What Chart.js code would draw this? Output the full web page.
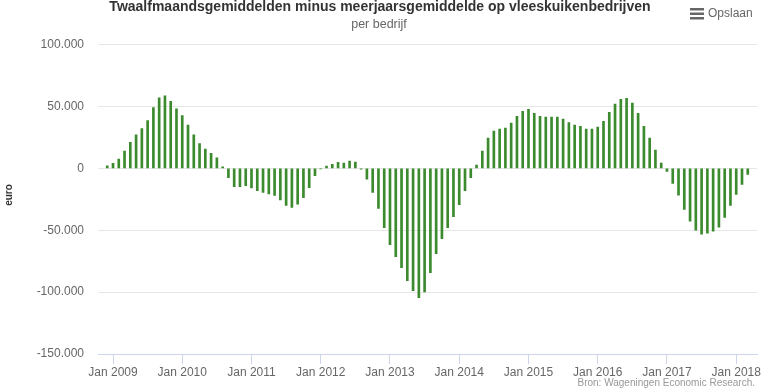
<!DOCTYPE html>
<html><head><meta charset="utf-8">
<script src="https://cdn.jsdelivr.net/npm/chart.js@4/dist/chart.umd.min.js"></script>
<style>html,body{margin:0;padding:0;background:#fff;}#wrap{width:770px;height:390px;position:relative}</style>
</head><body><div id="wrap"><canvas id="c" width="770" height="390"></canvas></div>
<script>
const months = [
 "2008-12",
 "2009-01","2009-02","2009-03","2009-04","2009-05","2009-06","2009-07","2009-08","2009-09","2009-10","2009-11","2009-12",
 "2010-01","2010-02","2010-03","2010-04","2010-05","2010-06","2010-07","2010-08","2010-09","2010-10","2010-11","2010-12",
 "2011-01","2011-02","2011-03","2011-04","2011-05","2011-06","2011-07","2011-08","2011-09","2011-10","2011-11","2011-12",
 "2012-01","2012-02","2012-03","2012-04","2012-05","2012-06","2012-07","2012-08","2012-09","2012-10","2012-11","2012-12",
 "2013-01","2013-02","2013-03","2013-04","2013-05","2013-06","2013-07","2013-08","2013-09","2013-10","2013-11","2013-12",
 "2014-01","2014-02","2014-03","2014-04","2014-05","2014-06","2014-07","2014-08","2014-09","2014-10","2014-11","2014-12",
 "2015-01","2015-02","2015-03","2015-04","2015-05","2015-06","2015-07","2015-08","2015-09","2015-10","2015-11","2015-12",
 "2016-01","2016-02","2016-03","2016-04","2016-05","2016-06","2016-07","2016-08","2016-09","2016-10","2016-11","2016-12",
 "2017-01","2017-02","2017-03","2017-04","2017-05","2017-06","2017-07","2017-08","2017-09","2017-10","2017-11","2017-12",
 "2018-01","2018-02","2018-03"
];
const values = [
 2000,
 4000, 7500, 14000, 21000, 27000, 32000, 38500, 49000, 57000, 58500, 54000, 48000,
 42500, 35000, 27000, 20000, 15500, 12000, 8500, 1200, -7500, -14800, -14800, -14000,
 -15800, -18000, -19500, -20600, -22000, -25500, -30000, -31700, -29000, -23700, -15600, -6000,
 -500, 1800, 3300, 4900, 4200, 5800, 5100, -700, -8800, -19500, -32400, -48000,
 -61600, -71300, -80200, -90800, -98800, -104500, -99800, -84300, -68900, -56800, -47900, -39000,
 -29300, -18000, -7600, 2600, 14000, 24500, 30000, 31600, 32400, 36500, 42000, 46000,
 47700, 44500, 42000, 41300, 41300, 41300, 39700, 37000, 35000, 34000, 31600, 31600,
 33200, 38000, 45300, 51800, 55700, 56500, 52700, 44500, 34000, 24400, 14700, 4300,
 -2500, -12300, -21700, -33200, -42800, -50000, -53200, -52400, -50800, -47600, -39600, -30000,
 -21000, -13000, -5000
];
const xTickMonths = ["2009-01","2010-01","2011-01","2012-01","2013-01","2014-01","2015-01","2016-01","2017-01","2018-01"];
const xTickLabels = ["Jan 2009","Jan 2010","Jan 2011","Jan 2012","Jan 2013","Jan 2014","Jan 2015","Jan 2016","Jan 2017","Jan 2018"];
const yTicks = [-150000, -100000, -50000, 0, 50000, 100000];
const titleText = "Twaalfmaandsgemiddelden minus meerjaarsgemiddelde op vleeskuikenbedrijven";
const subtitleText = "per bedrijf";
const yAxisTitle = "euro";
const sourceText = "Bron: Wageningen Economic Research.";
const menuText = "Opslaan";

const FONT = "'Liberation Sans', Arial, sans-serif";
function fmt(v){
  const s = Math.abs(v).toString().replace(/\B(?=(\d{3})+(?!\d))/g, ".");
  return (v < 0 ? "-" : "") + s;
}

const decor = {
  id: 'decor',
  afterDraw(chart){
    const ctx = chart.ctx;
    ctx.save();
    ctx.textAlign = 'center';
    ctx.textBaseline = 'alphabetic';
    ctx.fillStyle = '#333333';
    ctx.font = 'bold 14px ' + FONT;
    ctx.fillText(titleText, 380, 11);
    ctx.fillStyle = '#666666';
    ctx.font = '12.5px ' + FONT;
    ctx.fillText(subtitleText, 379, 28);
    // menu icon
    ctx.fillStyle = '#666666';
    [8, 12.5, 17].forEach(y => ctx.fillRect(690, y, 14, 2.5));
    ctx.textAlign = 'left';
    ctx.font = '12px ' + FONT;
    ctx.fillText(menuText, 708, 17);
    // source
    ctx.textAlign = 'right';
    ctx.fillStyle = '#999999';
    ctx.font = '10px ' + FONT;
    ctx.fillText(sourceText, 755, 386);
    // y axis title
    ctx.translate(9, 195);
    ctx.rotate(-Math.PI/2);
    ctx.textAlign = 'center';
    ctx.textBaseline = 'middle';
    ctx.fillStyle = '#333333';
    ctx.font = 'bold 10px ' + FONT;
    ctx.fillText(yAxisTitle, 0, 0);
    ctx.restore();
  }
};

new Chart(document.getElementById('c'), {
  type: 'bar',
  data: {
    datasets: [{
      data: values.map((v, i) => ({x: i, y: v})),
      backgroundColor: '#3b8b2e',
      borderWidth: 0,
      barThickness: 2
    }]
  },
  options: {
    responsive: false,
    animation: false,
    layout: {padding: {top: 44.5, right: 13, bottom: 0, left: 0}},
    plugins: {legend: {display: false}, tooltip: {enabled: false}, title: {display: false}},
    scales: {
      x: {
        type: 'linear',
        offset: false,
        min: -1.6, max: 112.6,
        afterBuildTicks: s => { s.ticks = xTickMonths.map(m => ({value: months.indexOf(m)})); },
        afterFit: s => { s.height = 36; },
        grid: {offset: false, drawOnChartArea: false, drawTicks: true, tickLength: 10, color: '#ccd6eb'},
        border: {display: true, color: '#ccd6eb', width: 1},
        ticks: {
          autoSkip: false, maxRotation: 0, padding: 1,
          color: '#666666', font: {family: FONT, size: 12},
          callback: (v, i) => xTickLabels[i]
        }
      },
      y: {
        min: -150000, max: 100000,
        afterBuildTicks: s => { s.ticks = yTicks.map(v => ({value: v})); },
        afterFit: s => { s.width = 98; },
        grid: {color: '#e6e6e6', drawTicks: false},
        border: {display: false},
        ticks: {padding: 14, color: '#666666', font: {family: FONT, size: 12}, callback: v => fmt(v)}
      }
    }
  },
  plugins: [decor]
});
</script>
</body></html>
